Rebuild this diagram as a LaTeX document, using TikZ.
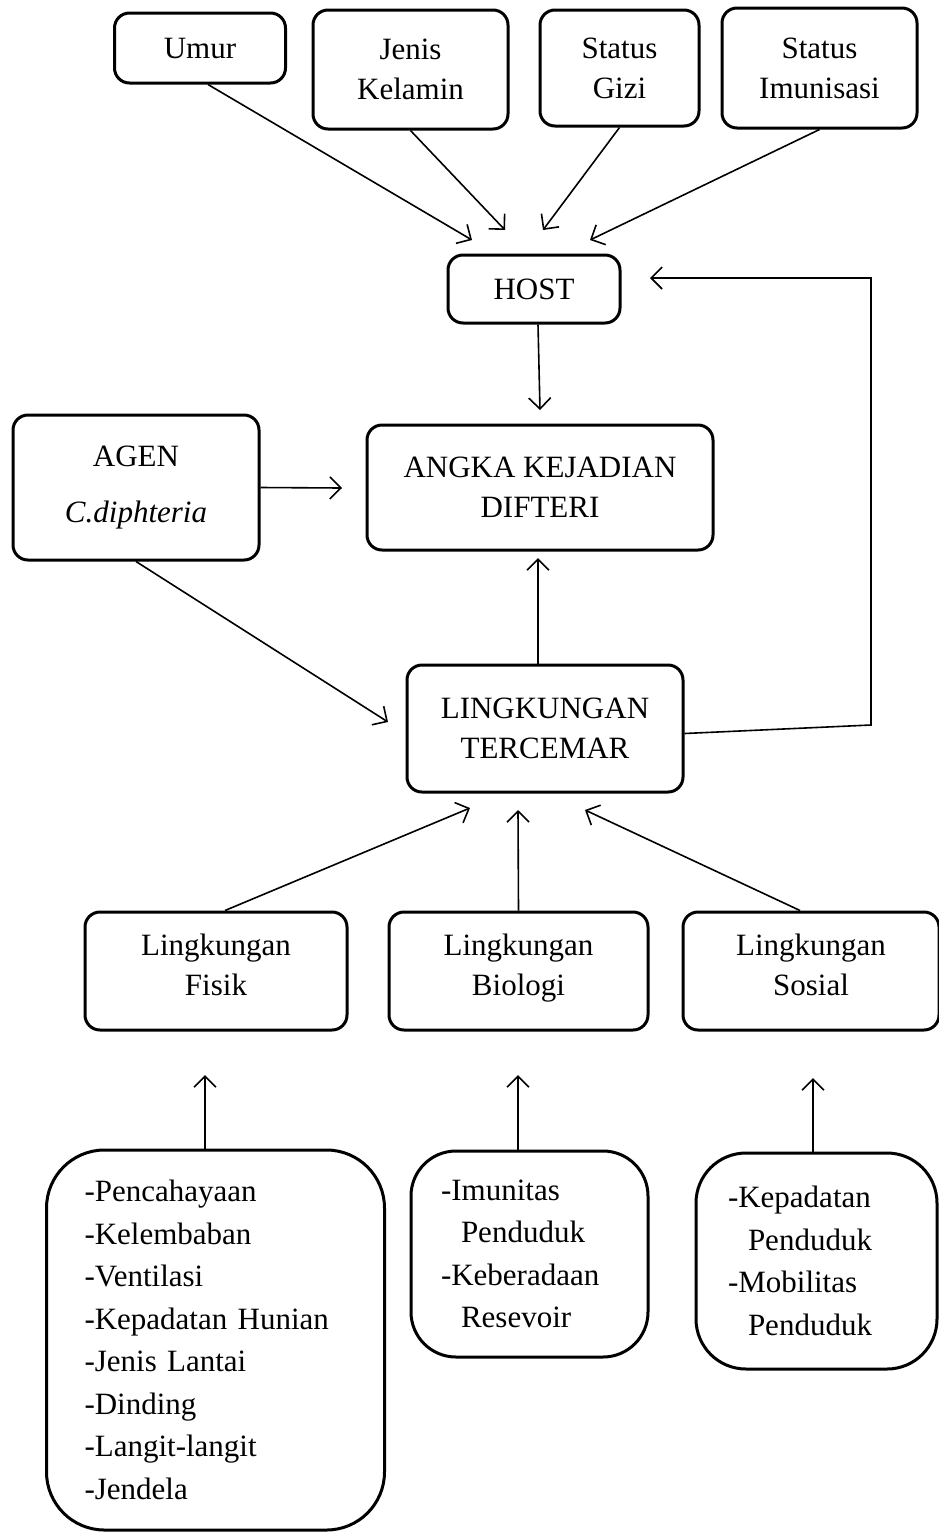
\documentclass[tikz,border=0pt]{standalone}
\usepackage{fontspec}
\setmainfont{Liberation Serif}
\usetikzlibrary{arrows.meta, calc}

\begin{document}
\begin{tikzpicture}[x=1pt, y=-1pt, font=\fontsize{31}{40}\selectfont,
  box/.style={draw, line width=3pt, rounded corners=15pt, align=center, inner sep=0pt},
  lst/.style={draw, line width=3pt, align=left, inner ysep=0pt, font=\fontsize{31}{42.5}\selectfont},
  arr/.style={-{Straight Barb[length=11pt, width=22pt]}, line width=1.6pt}
]
  \useasboundingbox (0,0) rectangle (939,1532);

  % faktor host
  \node[box, minimum width=171, minimum height=70] (umur) at (200,48) {Umur};
  \node[box, minimum width=195, minimum height=119] (jenis) at (410.5,69.5) {Jenis\\Kelamin};
  \node[box, minimum width=159, minimum height=116] (gizi) at (619.5,68) {Status\\Gizi};
  \node[box, minimum width=195, minimum height=120] (imun) at (819.5,68) {Status\\Imunisasi};
  \node[box, minimum width=172, minimum height=68] (host) at (534,289) {HOST};

  \node[box, minimum width=246, minimum height=145] (agen) at (136,487.5) {AGEN\\[16pt]\textit{C.diphteria}};
  \node[box, minimum width=346, minimum height=125] (angka) at (540,487.5) {ANGKA KEJADIAN\\DIFTERI};
  \node[box, minimum width=276, minimum height=127] (lingk) at (545,728.5) {LINGKUNGAN\\TERCEMAR};

  % lingkungan
  \node[box, minimum width=262, minimum height=118] (fisik) at (216,971) {Lingkungan\\Fisik\strut};
  \node[box, minimum width=259, minimum height=118] (bio) at (518.5,971) {Lingkungan\\Biologi\strut};
  \node[box, minimum width=256, minimum height=118] (sos) at (811,971) {Lingkungan\\Sosial\strut};

  \node[lst, rounded corners=58pt, text width=262, inner xsep=38, minimum height=380] (pfisik) at (215.5,1340)
    {-Pencahayaan\\-Kelembaban\\-Ventilasi\\-Kepadatan Hunian\\-Jenis Lantai\\-Dinding\\-Langit-langit\\-Jendela};
  \node[lst, rounded corners=45pt, text width=177, inner xsep=30, minimum height=206] (pbio) at (529.5,1254)
    {-Imunitas\\\hspace*{20pt}Penduduk\\-Keberadaan\\\hspace*{20pt}Resevoir};
  \node[lst, rounded corners=50pt, text width=177, inner xsep=32, minimum height=216] (psos) at (816.5,1261)
    {-Kepadatan\\\hspace*{20pt}Penduduk\\-Mobilitas\\\hspace*{20pt}Penduduk};

  % ujung panah
  \coordinate (h1) at (472,240);
  \coordinate (h2) at (505,230);
  \coordinate (h3) at (543,230);
  \coordinate (h4) at (590,240);
  \coordinate (h5) at (650,278);
  \coordinate (a1) at (540,410);
  \coordinate (a2) at (342,488);
  \coordinate (a3) at (538,558);
  \coordinate (l1) at (388,722);
  \coordinate (l2) at (470,808);
  \coordinate (l3) at (518,810);
  \coordinate (l4) at (585,810);
  \coordinate (f1) at (205,1075);
  \coordinate (f2) at (518,1075);
  \coordinate (f3) at (813,1078);

  \draw[arr] ([xshift=8pt]umur.south) -- (h1);
  \draw[arr] (jenis.south) -- (h2);
  \draw[arr] (gizi.south) -- (h3);
  \draw[arr] (imun.south) -- (h4);
  \draw[arr] ([xshift=4pt]host.south) -- (a1);
  \draw[arr] (agen.east) -- (a2);
  \draw[arr] (agen.south) -- (l1);
  \draw[arr] (lingk.north -| a3) -- (a3);
  \draw[arr] ([yshift=-5pt]lingk.east) -- (871,725) |- (h5);

  \draw[arr] ([xshift=9pt]fisik.north) -- (l2);
  \draw[arr] (bio.north) -- (l3);
  \draw[arr] ([xshift=-11pt]sos.north) -- (l4);
  \draw[arr] (pfisik.north -| f1) -- (f1);
  \draw[arr] (pbio.north -| f2) -- (f2);
  \draw[arr] (psos.north -| f3) -- (f3);
\end{tikzpicture}
\end{document}
